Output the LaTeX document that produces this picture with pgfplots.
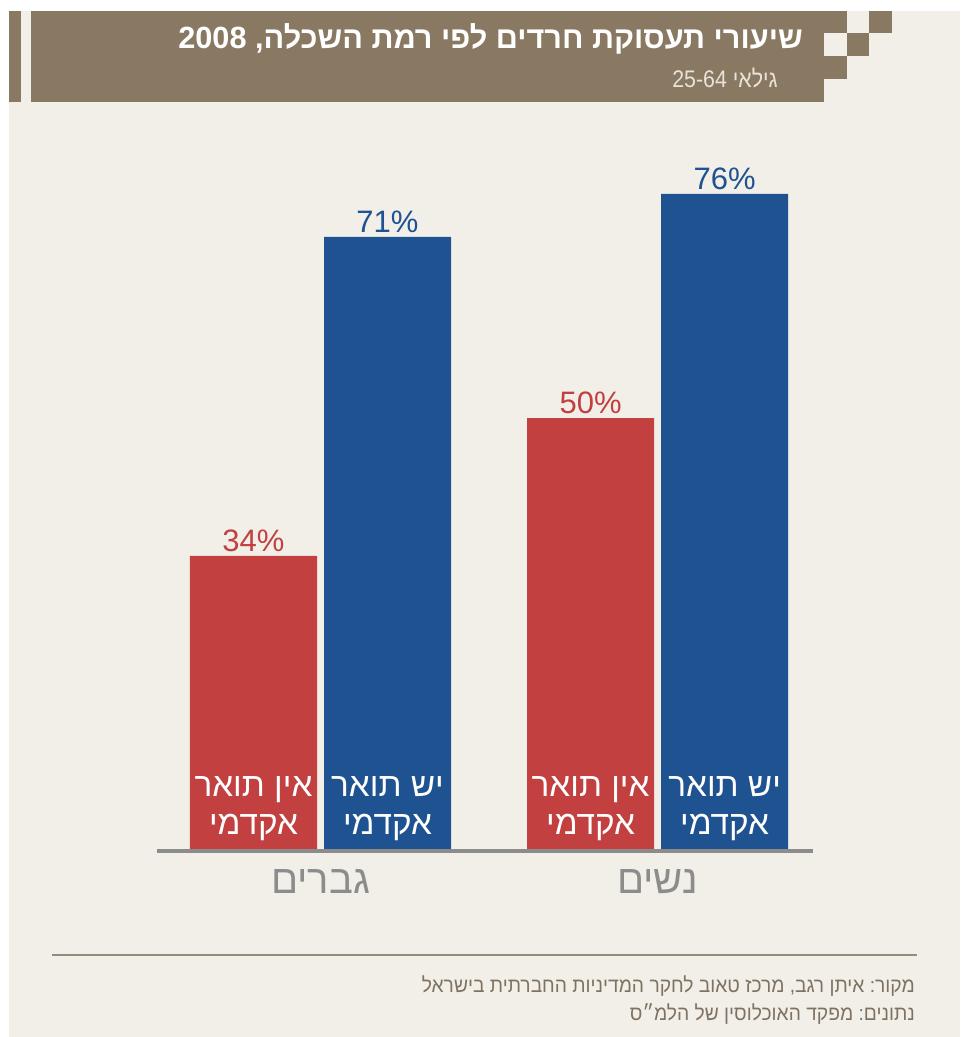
\documentclass[border=0pt]{standalone}
\usepackage{pgfplots}
\pgfplotsset{compat=1.18}
\usepackage{fontspec}
\setmainfont{Liberation Sans}
\newfontfamily\heb[Script=Hebrew]{Liberation Sans}
\newfontfamily\hebnarrow[Script=Hebrew, FakeStretch=0.93]{Liberation Sans}
\newfontfamily\hebsub[Script=Hebrew, FakeStretch=0.89]{Liberation Sans}
\TeXXeTstate=1
\frenchspacing

\definecolor{barred}{RGB}{194,64,64}
\definecolor{barblue}{RGB}{31,82,144}
\definecolor{hdr}{RGB}{138,121,98}
\definecolor{bg}{RGB}{242,239,233}
\definecolor{axisgray}{RGB}{140,140,140}
\definecolor{srctxt}{RGB}{128,114,96}
\definecolor{srcrule}{RGB}{150,138,122}
\definecolor{subtxt}{RGB}{232,226,215}

\tikzset{inlbl/.style={anchor=base, text=white, inner sep=0pt,
    font=\heb\fontsize{25}{30}\selectfont}}

\begin{document}
\begin{tikzpicture}
% page, background and header (1 unit = 1 px of the reference)
\begin{scope}[x=0.75pt,y=-0.75pt]
\fill[white] (0,0) rectangle (960,1037);
\fill[bg] (9,11) rectangle (960,1037);
\fill[hdr] (9,11) rectangle (21,102);
\fill[hdr] (31,11) rectangle (824,102);
\fill[hdr] (824,11) rectangle (847,33);
\fill[hdr] (869,11) rectangle (892,33);
\fill[hdr] (847,33) rectangle (869,56);
\fill[hdr] (824,56) rectangle (847,79);
\node[anchor=base east, text=white, inner sep=0pt, font=\heb\bfseries\fontsize{23}{27}\selectfont]
  at (803,49) {\beginR שיעורי תעסוקת חרדים לפי רמת השכלה, \beginL2008\endL\endR};
\node[anchor=base east, text=subtxt, inner sep=0pt, font=\hebsub\fontsize{18}{22}\selectfont]
  at (778,88) {\beginR גילאי \beginL25-64\endL\endR};
\draw[srcrule, line width=1.5pt] (52,955) -- (917,955);
\node[anchor=base east, text=srctxt, inner sep=0pt, font=\hebnarrow\fontsize{15.5}{19}\selectfont]
  at (915,992) {\beginR מקור: איתן רגב, מרכז טאוב לחקר המדיניות החברתית בישראל\endR};
\node[anchor=base east, text=srctxt, inner sep=0pt, font=\hebnarrow\fontsize{15.5}{19}\selectfont]
  at (915,1020) {\beginR נתונים: מפקד האוכלוסין של הלמ״ס\endR};
\end{scope}

\begin{axis}[
    at={(117.75pt,-636.75pt)}, anchor=south west,
    scale only axis,
    width=492pt, height=517.2pt,
    xmin=-0.485, xmax=1.461,
    ymin=0, ymax=80,
    ybar=5.25pt, bar width=95.25pt,
    axis line style={draw=none},
    ytick=\empty,
    xtick={0,1},
    xticklabels={{\beginR גברים\endR},{\beginR נשים\endR}},
    major tick length=0pt,
    xticklabel style={anchor=base, yshift=-33pt, text=axisgray,
        font=\heb\fontsize{30}{36}\selectfont},
    clip=false,
    /pgf/number format/assume math mode=true,
    nodes near coords={\pgfmathprintnumber{\pgfplotspointmeta}\%},
    nodes near coords style={anchor=south, inner sep=0pt, yshift=3pt,
        font=\fontsize{23.25}{28}\selectfont},
]
\addplot[fill=barred, draw=none, nodes near coords style={text=barred}]
    coordinates {(0,34) (1,50)};
\addplot[fill=barblue, draw=none, nodes near coords style={text=barblue}]
    coordinates {(0,71) (1,76)};
\node[inlbl] at ([yshift=39.75pt]axis cs:-0.1988,0) {\beginR אין תואר\endR};
\node[inlbl] at ([yshift=11.25pt]axis cs:-0.1988,0) {\beginR אקדמי\endR};
\node[inlbl] at ([yshift=39.75pt]axis cs:0.1988,0) {\beginR יש תואר\endR};
\node[inlbl] at ([yshift=11.25pt]axis cs:0.1988,0) {\beginR אקדמי\endR};
\node[inlbl] at ([yshift=39.75pt]axis cs:0.8012,0) {\beginR אין תואר\endR};
\node[inlbl] at ([yshift=11.25pt]axis cs:0.8012,0) {\beginR אקדמי\endR};
\node[inlbl] at ([yshift=39.75pt]axis cs:1.1988,0) {\beginR יש תואר\endR};
\node[inlbl] at ([yshift=11.25pt]axis cs:1.1988,0) {\beginR אקדמי\endR};
\end{axis}

\begin{scope}[x=0.75pt,y=-0.75pt]
\draw[axisgray, line width=3pt] (157,851) -- (813,851);
\end{scope}
\end{tikzpicture}
\end{document}
